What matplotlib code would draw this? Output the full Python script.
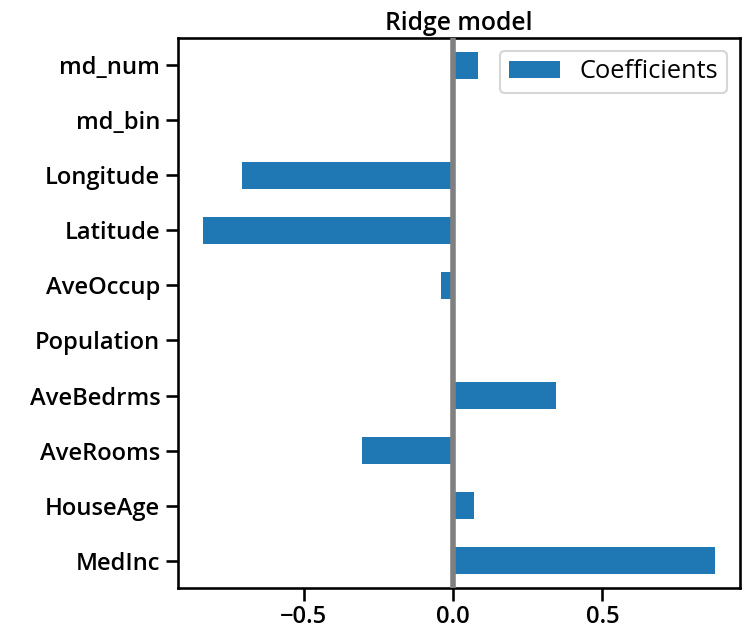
import matplotlib
matplotlib.use("Agg")
import matplotlib.pyplot as plt
import seaborn as sns

sns.set_context("talk")
plt.rcParams['font.family'] = ['Open Sans', 'DejaVu Sans']

features = ["MedInc", "HouseAge", "AveRooms", "AveBedrms", "Population",
            "AveOccup", "Latitude", "Longitude", "md_bin", "md_num"]
coefs = [0.876, 0.070, -0.305, 0.346, -0.005, -0.040, -0.836, -0.705, 0.0, 0.084]

fig = plt.figure(figsize=(7.53, 6.31), dpi=100)
ax = fig.add_axes([0.236, 0.068, 0.747, 0.872])
y = list(range(len(features)))
ax.barh(y, coefs, height=0.5, color="#1f77b4", label="Coefficients", zorder=2)
ax.axvline(0, color="gray", linewidth=4, zorder=3)
ax.set_yticks(y)
ax.set_yticklabels(features)
ax.set_ylim(-0.5, len(features) - 0.5)
ax.margins(x=0.05)
ax.set_xticks([-0.5, 0.0, 0.5])
for lab in ax.get_xticklabels() + ax.get_yticklabels():
    lab.set_fontweight("semibold")
    lab.set_fontsize(17.1)
ax.set_title("Ridge model", fontsize=17.7, fontweight="semibold", pad=6)
ax.legend(loc="upper right", fontsize=18.3, borderpad=0.35)
fig.savefig("out.png", dpi=100)
